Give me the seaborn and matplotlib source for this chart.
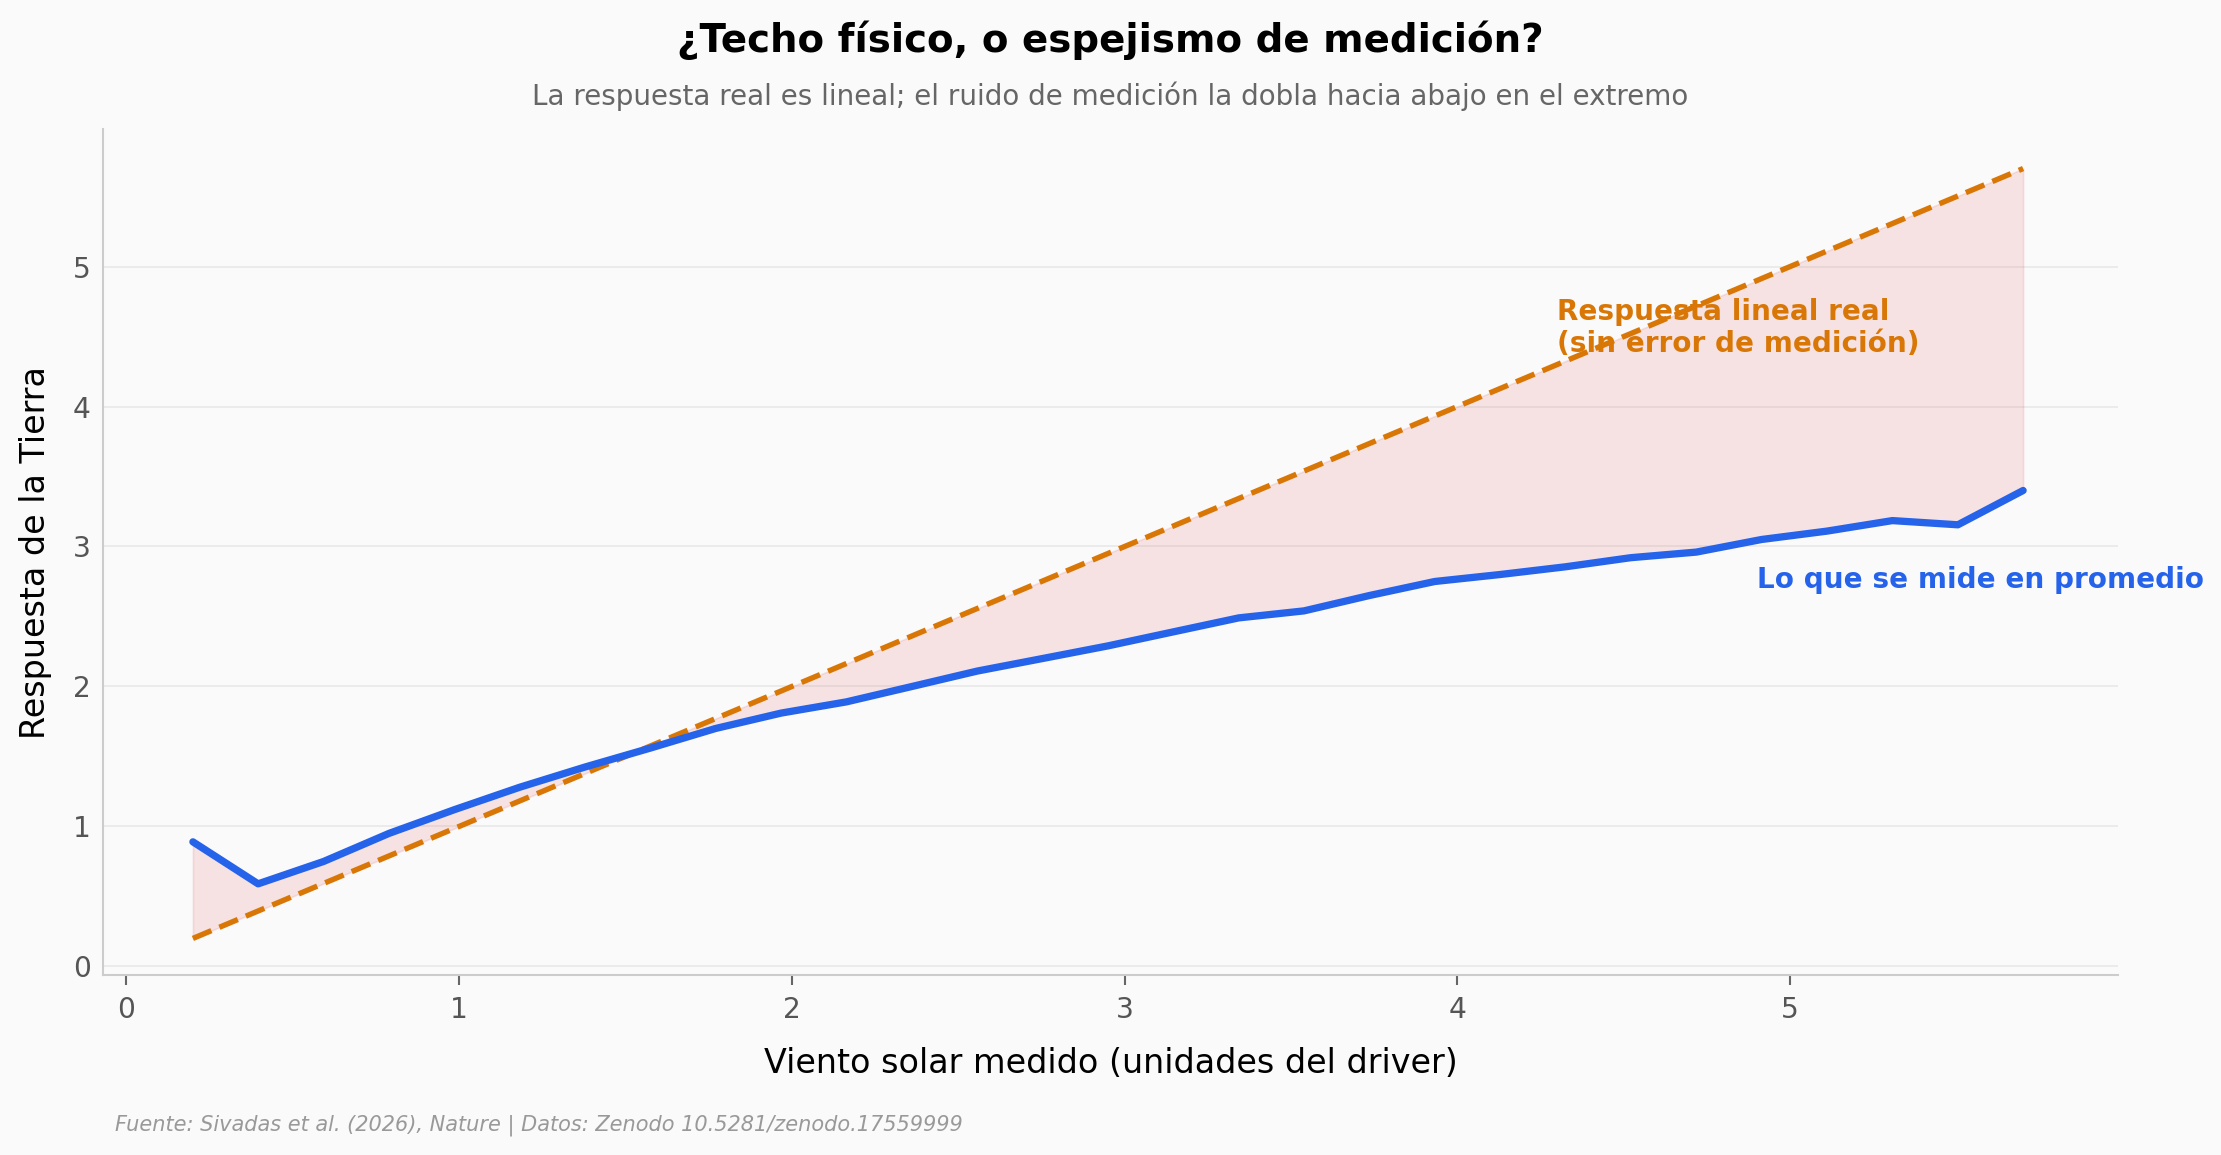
import pandas as pd
import matplotlib.pyplot as plt
import seaborn as sns

# valores medidos del driver (centros de bin)
viento = [0.2, 0.396, 0.593, 0.789, 0.986, 1.182, 1.379, 1.575, 1.771, 1.968,
          2.164, 2.361, 2.557, 2.754, 2.95, 3.146, 3.343, 3.539, 3.736, 3.932,
          4.129, 4.325, 4.521, 4.718, 4.914, 5.111, 5.307, 5.504, 5.7]

# respuesta promedio observada
medido = [0.89, 0.59, 0.75, 0.95, 1.12, 1.28, 1.425, 1.56, 1.70, 1.81,
          1.89, 2.00, 2.11, 2.20, 2.29, 2.39, 2.49, 2.54, 2.65, 2.75,
          2.80, 2.855, 2.92, 2.96, 3.05, 3.11, 3.185, 3.155, 3.40]

# respuesta lineal real (sin error de medición)
real = [0.2, 0.396, 0.593, 0.789, 0.986, 1.182, 1.379, 1.575, 1.771, 1.968,
        2.164, 2.361, 2.557, 2.754, 2.95, 3.146, 3.343, 3.539, 3.736, 3.932,
        4.129, 4.325, 4.521, 4.718, 4.914, 5.111, 5.307, 5.504, 5.7]

df = pd.DataFrame({"viento": viento, "medido": medido, "real": real})

AZUL = "#2563eb"
NARANJA = "#d97706"
FONDO = "#fafafa"

sns.set_theme(style="whitegrid")
plt.rcParams["font.family"] = ["DejaVu Sans"]

fig = plt.figure(figsize=(2221 / 150, 1155 / 150), dpi=150, facecolor=FONDO)
ax = fig.add_axes([0.0464, 0.156, 0.9072, 0.732])
ax.set_facecolor(FONDO)

# zona entre la respuesta real y la medida
ax.fill_between(df["viento"], df["medido"], df["real"], color="#d62728",
                alpha=0.11, linewidth=0.8, zorder=1)

sns.lineplot(data=df, x="viento", y="real", ax=ax, color=NARANJA,
             linewidth=2.6, linestyle="--", zorder=3)
sns.lineplot(data=df, x="viento", y="medido", ax=ax, color=AZUL,
             linewidth=3.5, zorder=4)

ax.set_xlim(-0.07, 5.985)
ax.set_ylim(-0.06, 5.98)
ax.set_xticks([0, 1, 2, 3, 4, 5])
ax.set_yticks([0, 1, 2, 3, 4, 5])

ax.grid(axis="x", visible=False)
ax.grid(axis="y", color="#e8e8e8", linewidth=0.8)
for lado in ["top", "right"]:
    ax.spines[lado].set_visible(False)
for lado in ["left", "bottom"]:
    ax.spines[lado].set_color("#cccccc")
    ax.spines[lado].set_linewidth(1.0)

ax.tick_params(axis="x", bottom=True, length=5, width=1, color="#666666",
               labelsize=13.5, labelcolor="#555555", pad=5)
ax.tick_params(axis="y", left=False, length=0, labelsize=13.5,
               labelcolor="#555555", pad=6)

ax.set_xlabel("Viento solar medido (unidades del driver)", fontsize=16,
              color="black", labelpad=11)
ax.set_ylabel("Respuesta de la Tierra", fontsize=16, color="black", labelpad=10)

ax.text(4.3, 4.56, "Respuesta lineal real\n(sin error de medición)",
        color=NARANJA, fontsize=13.4, fontweight="bold", ha="left", va="center",
        zorder=5)
ax.text(4.9, 2.76, "Lo que se mide en promedio", color=AZUL, fontsize=13.4,
        fontweight="bold", ha="left", va="center", zorder=5, clip_on=False)

fig.text(0.5, 0.965, "¿Techo físico, o espejismo de medición?", ha="center",
         va="center", fontsize=18.6, fontweight="bold", color="black")
fig.text(0.5, 0.917,
         "La respuesta real es lineal; el ruido de medición la dobla hacia abajo en el extremo",
         ha="center", va="center", fontsize=13.3, color="#666666")
fig.text(0.052, 0.026,
         "Fuente: Sivadas et al. (2026), Nature | Datos: Zenodo 10.5281/zenodo.17559999",
         ha="left", va="center", fontsize=10, style="italic", color="#999999")

fig.savefig("out.png", dpi=150, facecolor=FONDO)
